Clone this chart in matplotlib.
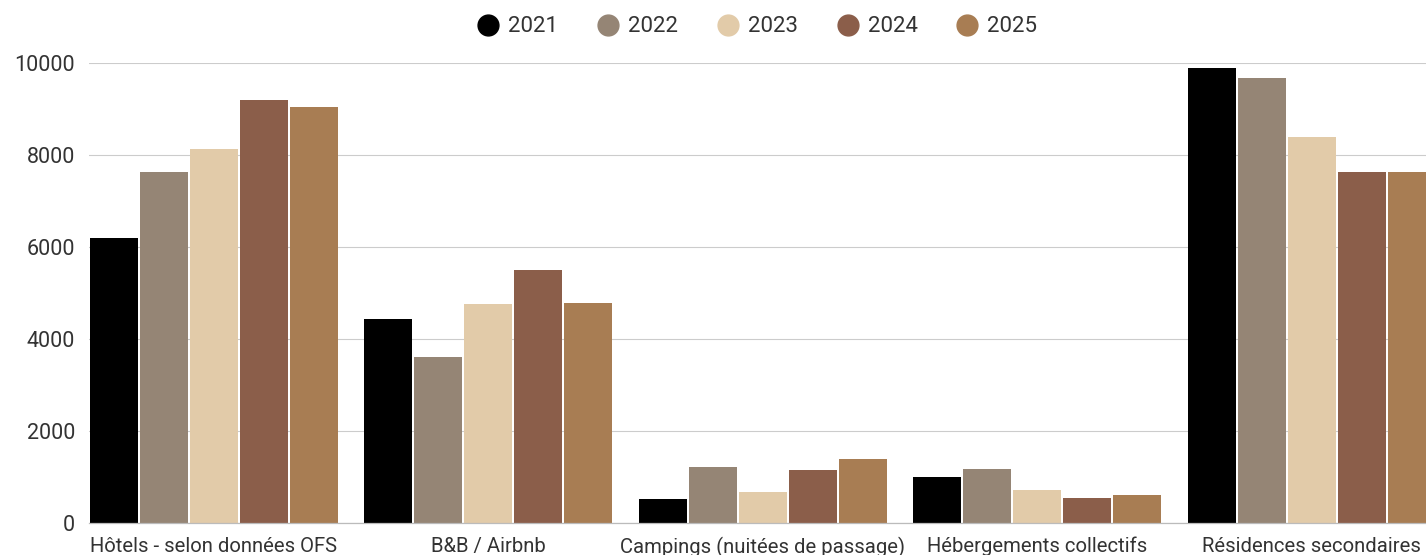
import matplotlib.pyplot as plt
import numpy as np

categories = ['Hôtels - selon données OFS', 'B&B / Airbnb', 'Campings (nuitées de passage)',
              'Hébergements collectifs', 'Résidences secondaires']
years = ['2021', '2022', '2023', '2024', '2025']
v2021 = [6200, 4440, 520, 1000, 9890]
v2022 = [7630, 3610, 1220, 1175, 9670]
v2023 = [8130, 4760, 675, 715, 8390]
v2024 = [9200, 5500, 1150, 545, 7630]
v2025 = [9040, 4780, 1390, 610, 7630]
colors = ['#000000', '#958575', '#e2cba9', '#8b5e4a', '#a87d53']
yticks = [0, 2000, 4000, 6000, 8000, 10000]

plt.rcParams['font.family'] = ['Roboto', 'DejaVu Sans']

W, H = 1426, 555
fig = plt.figure(figsize=(W / 100, H / 100), dpi=100)
# axes starts at x=90px, extends past the right edge (chart is clipped)
ax = fig.add_axes([89 / W, (H - 523) / H, (W - 89) / W, (523 - 63) / H])

series = [v2021, v2022, v2023, v2024, v2025]
x = np.arange(len(categories))
slot = 50 / 275
for j, (vals, col, yr) in enumerate(zip(series, colors, years)):
    ax.bar(x - 2.5 * slot + (j + 0.5) * slot, vals, width=48 / 275, color=col,
           label=yr, zorder=3)

ax.set_xlim(-2.5 * slot, -2.5 * slot + (W - 89) / 274.5)
ax.set_ylim(0, 10000)
ax.set_yticks(yticks)
ax.set_yticklabels([str(t) for t in yticks])
ax.set_xticks(x)
ax.set_xticklabels(categories)
ax.tick_params(axis='both', length=0, labelsize=14.6, colors='#333333')
ax.tick_params(axis='y', pad=10, labelsize=15.5)
ax.tick_params(axis='x', pad=10)
ax.yaxis.grid(True, color='#cccccc', linewidth=0.8, zorder=0)
for s in ['top', 'right', 'left']:
    ax.spines[s].set_visible(False)
ax.spines['bottom'].set_color('#bbbbbb')
ax.spines['bottom'].set_linewidth(0.9)
ax.spines['bottom'].set_zorder(4)

marks = [plt.Line2D([], [], marker='o', linestyle='', markersize=15,
                    markerfacecolor=c, markeredgecolor=c) for c in colors]
fig.legend(marks, years, loc='center', bbox_to_anchor=(757 / W, (H - 27) / H), ncol=5,
           frameon=False, fontsize=16, handletextpad=0.4, columnspacing=1.75,
           labelcolor='#333333', handlelength=1.0)

plt.savefig('out.png', dpi=100)
